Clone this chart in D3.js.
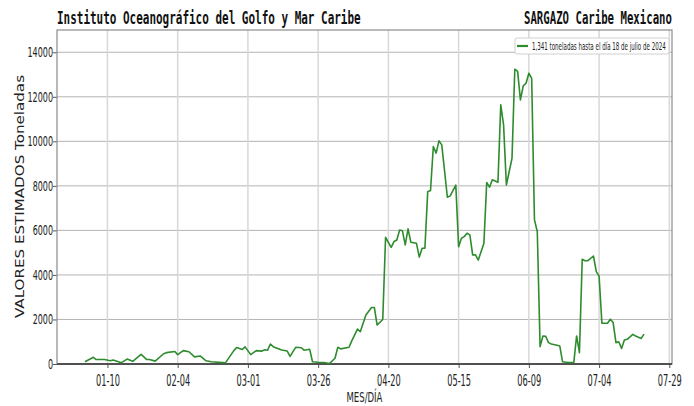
<!DOCTYPE html>
<html>

<head>
    <meta charset="utf-8">
    <script src="https://d3js.org/d3.v7.min.js"></script>
    <style>
        body {
            margin: 0;
            background-color: #ffffff;
            font-family: 'DejaVu Sans', sans-serif;
        }
    </style>
    <title>Sargazo Caribe Mexicano</title>
</head>

<body>
    <svg id="chart" width="694" height="406"></svg>

    <script>
        // fechas (MM-DD) y toneladas estimadas
        let dates = [
            "01-02", "01-05", "01-06", "01-09", "01-11", "01-12", "01-15", "01-17", "01-19", "01-22",
            "01-24", "01-25", "01-27", "01-30", "01-31", "02-03", "02-04", "02-06", "02-08", "02-10",
            "02-12", "02-14", "02-16", "02-20", "02-21", "02-24", "02-25", "02-27", "02-28", "03-02",
            "03-04", "03-06", "03-07", "03-08", "03-09", "03-10", "03-13", "03-15", "03-16", "03-18",
            "03-20", "03-21", "03-23", "03-24", "03-26", "03-28", "03-30", "04-01", "04-02", "04-03",
            "04-06", "04-07", "04-09", "04-10", "04-12", "04-14", "04-15", "04-16", "04-18", "04-19",
            "04-21", "04-22", "04-23", "04-24", "04-25", "04-26", "04-27", "04-28", "04-30", "05-01",
            "05-02", "05-03", "05-04", "05-05", "05-06", "05-07", "05-08", "05-09", "05-11", "05-12",
            "05-14", "05-15", "05-16", "05-17", "05-18", "05-19", "05-20", "05-21", "05-22", "05-24",
            "05-25", "05-26", "05-27", "05-29", "05-30", "05-31", "06-01", "06-03", "06-04", "06-05",
            "06-06", "06-07", "06-08", "06-09", "06-10", "06-11", "06-12", "06-13", "06-14", "06-15",
            "06-16", "06-17", "06-19", "06-20", "06-21", "06-23", "06-25", "06-26", "06-27", "06-28",
            "06-29", "06-30", "07-02", "07-03", "07-04", "07-05", "07-07", "07-08", "07-09", "07-10",
            "07-11", "07-12", "07-13", "07-14", "07-16", "07-17", "07-18", "07-19", "07-20"
        ];
        let tons = [
            100, 300, 200, 200, 150, 180, 60, 220, 120, 430,
            200, 200, 130, 460, 510, 560, 420, 600, 550, 320,
            360, 150, 100, 60, 50, 600, 740, 650, 770, 420,
            600, 580, 640, 620, 900, 780, 630, 580, 340, 750,
            730, 620, 660, 100, 80, 70, 20, 260, 750, 680,
            750, 1050, 1570, 1450, 2200, 2540, 2540, 1750, 2000, 5690,
            5240, 5500, 5570, 6020, 5980, 5350, 6070, 5470, 5420, 4800,
            5200, 5200, 7740, 7790, 9770, 9470, 10020, 9840, 7490, 7550,
            8030, 5270, 5650, 5720, 5870, 5800, 4900, 4900, 4670, 5420,
            8150, 7940, 8270, 8160, 11640, 10740, 8040, 9240, 13240, 13140,
            11860, 12490, 12610, 13060, 12830, 6470, 5950, 780, 1260, 1240,
            960, 900, 840, 810, 100, 70, 70, 1260, 510, 4700,
            4640, 4640, 4850, 4150, 3950, 1830, 1830, 2010, 1860, 960,
            1000, 700, 1080, 1110, 1330, 1260, 1200, 1150, 1341
        ];
        let xTickLabels = ["01-10", "02-04", "03-01", "03-26", "04-20", "05-15", "06-09", "07-04", "07-29"];
        let yTicks = [0, 2000, 4000, 6000, 8000, 10000, 12000, 14000];
        let legendText = "1,341 toneladas hasta el día 18 de julio de 2024";

        var parseDay = d3.timeParse("%Y-%m-%d");
        var toDate = function (s) {
            return parseDay("2023-" + s);
        };

        var data = dates.map(function (d, i) {
            return { date: toDate(d), value: tons[i] };
        });

        // comprime un texto en horizontal hasta el ancho pedido
        function fitText(sel, x, y, w) {
            var n = sel.node().getComputedTextLength();
            sel.attr("transform", "translate(" + x + "," + y + ") scale(" + (w / n) + ",1)");
        }

        var canvas = d3.select("#chart");
        var margin = { top: 30, right: 22, bottom: 42, left: 57 };
        var width = canvas.attr("width") - margin.left - margin.right;
        var height = canvas.attr("height") - margin.top - margin.bottom;

        // 5% de margen a cada lado, como matplotlib
        var ext = d3.extent(data, function (d) { return d.date; });
        var pad = (ext[1] - ext[0]) * 0.05;
        var xScale = d3.scaleTime()
            .domain([new Date(+ext[0] - pad), new Date(+ext[1] + pad)])
            .range([0, width]);
        var yScale = d3.scaleLinear()
            .domain([0, 15000])
            .range([height, 0]);

        var group = canvas.append("g")
            .attr("transform", "translate(" + margin.left + "," + margin.top + ")");

        // rejilla
        group.append("g")
            .selectAll("line")
            .data(yTicks)
            .enter()
            .append("line")
            .attr("x1", 0)
            .attr("x2", width)
            .attr("y1", function (d) { return yScale(d); })
            .attr("y2", function (d) { return yScale(d); })
            .style("stroke", "#b4b4b4")
            .style("stroke-width", "1px");

        group.append("g")
            .selectAll("line")
            .data(xTickLabels)
            .enter()
            .append("line")
            .attr("x1", function (d) { return xScale(toDate(d)); })
            .attr("x2", function (d) { return xScale(toDate(d)); })
            .attr("y1", 0)
            .attr("y2", height)
            .style("stroke", "#d8d8d8")
            .style("stroke-width", "1.5px");

        // ejes
        var xAxis = d3.axisBottom(xScale)
            .tickValues(xTickLabels.map(toDate))
            .tickFormat(d3.timeFormat("%m-%d"))
            .tickSize(4)
            .tickPadding(4);
        var yAxis = d3.axisLeft(yScale)
            .tickValues(yTicks)
            .tickFormat(function (d) { return d; })
            .tickSize(4)
            .tickPadding(0);

        var gx = group.append("g")
            .attr("transform", "translate(0," + height + ")")
            .call(xAxis);
        var gy = group.append("g")
            .call(yAxis);

        gx.select(".domain").remove();
        gy.select(".domain").remove();
        gx.selectAll("line").style("stroke", "#555");
        gy.selectAll("line").style("stroke", "#555");

        gx.selectAll("text")
            .style("font-family", "DejaVu Sans")
            .style("font-size", "15px")
            .style("fill", "#222")
            .attr("dy", "0.95em")
            .each(function () {
                var t = d3.select(this);
                var yy = +t.attr("y");
                t.attr("y", 0);
                fitText(t, 0, yy, 24);
            });

        gy.selectAll("text")
            .style("font-family", "DejaVu Sans")
            .style("font-size", "14px")
            .style("fill", "#222")
            .each(function (d) {
                var t = d3.select(this);
                var xx = +t.attr("x");
                t.attr("x", 0);
                fitText(t, xx, 0, String(d).length * 5.1);
            });

        // marco
        group.append("rect")
            .attr("width", width)
            .attr("height", height)
            .style("fill", "none")
            .style("stroke", "#8c8c8c")
            .style("stroke-width", "1.2px");
        group.append("line")
            .attr("x1", 0)
            .attr("x2", width)
            .attr("y1", height)
            .attr("y2", height)
            .style("stroke", "#333")
            .style("stroke-width", "1.6px");

        // serie
        var line = d3.line()
            .x(function (d) { return xScale(d.date); })
            .y(function (d) { return yScale(d.value); });

        group.append("path")
            .datum(data)
            .attr("d", line)
            .style("fill", "none")
            .style("stroke", "#2e8b2e")
            .style("stroke-width", "1.6px")
            .style("stroke-linejoin", "round");

        // leyenda
        var legend = group.append("g")
            .attr("transform", "translate(" + (width - 157) + ",8)");
        legend.append("rect")
            .attr("width", 154)
            .attr("height", 16)
            .attr("rx", 2)
            .style("fill", "#ffffff")
            .style("stroke", "#d0d0d0");
        legend.append("line")
            .attr("x1", 2)
            .attr("x2", 13)
            .attr("y1", 8)
            .attr("y2", 8)
            .style("stroke", "#2e8b2e")
            .style("stroke-width", "2.2px");
        var legendLabel = legend.append("text")
            .style("font-family", "DejaVu Sans")
            .style("font-size", "11px")
            .style("fill", "#222")
            .text(legendText);
        fitText(legendLabel, 17, 11.5, 134);

        // títulos
        var title1 = canvas.append("text")
            .style("font-family", "DejaVu Sans Mono")
            .style("font-weight", "bold")
            .style("font-size", "18px")
            .style("fill", "#111")
            .text("Instituto Oceanográfico del Golfo y Mar Caribe");
        fitText(title1, margin.left, 24, 304);

        var title2 = canvas.append("text")
            .style("font-family", "DejaVu Sans Mono")
            .style("font-weight", "bold")
            .style("font-size", "18px")
            .style("fill", "#111")
            .text("SARGAZO Caribe Mexicano");
        fitText(title2, margin.left + width - 148, 24, 148);

        var xLabel = canvas.append("text")
            .style("font-family", "DejaVu Sans")
            .style("font-size", "14px")
            .style("fill", "#222")
            .text("MES/DÍA");
        fitText(xLabel, margin.left + width / 2 - 18, 402, 36);

        canvas.append("text")
            .attr("transform", "translate(24," + (margin.top + height / 2) + ") rotate(-90)")
            .attr("x", -121)
            .attr("y", 0)
            .attr("textLength", 243)
            .attr("lengthAdjust", "spacingAndGlyphs")
            .style("font-family", "DejaVu Sans")
            .style("font-size", "12px")
            .style("fill", "#222")
            .text("VALORES ESTIMADOS Toneladas");
    </script>
</body>

</html>
